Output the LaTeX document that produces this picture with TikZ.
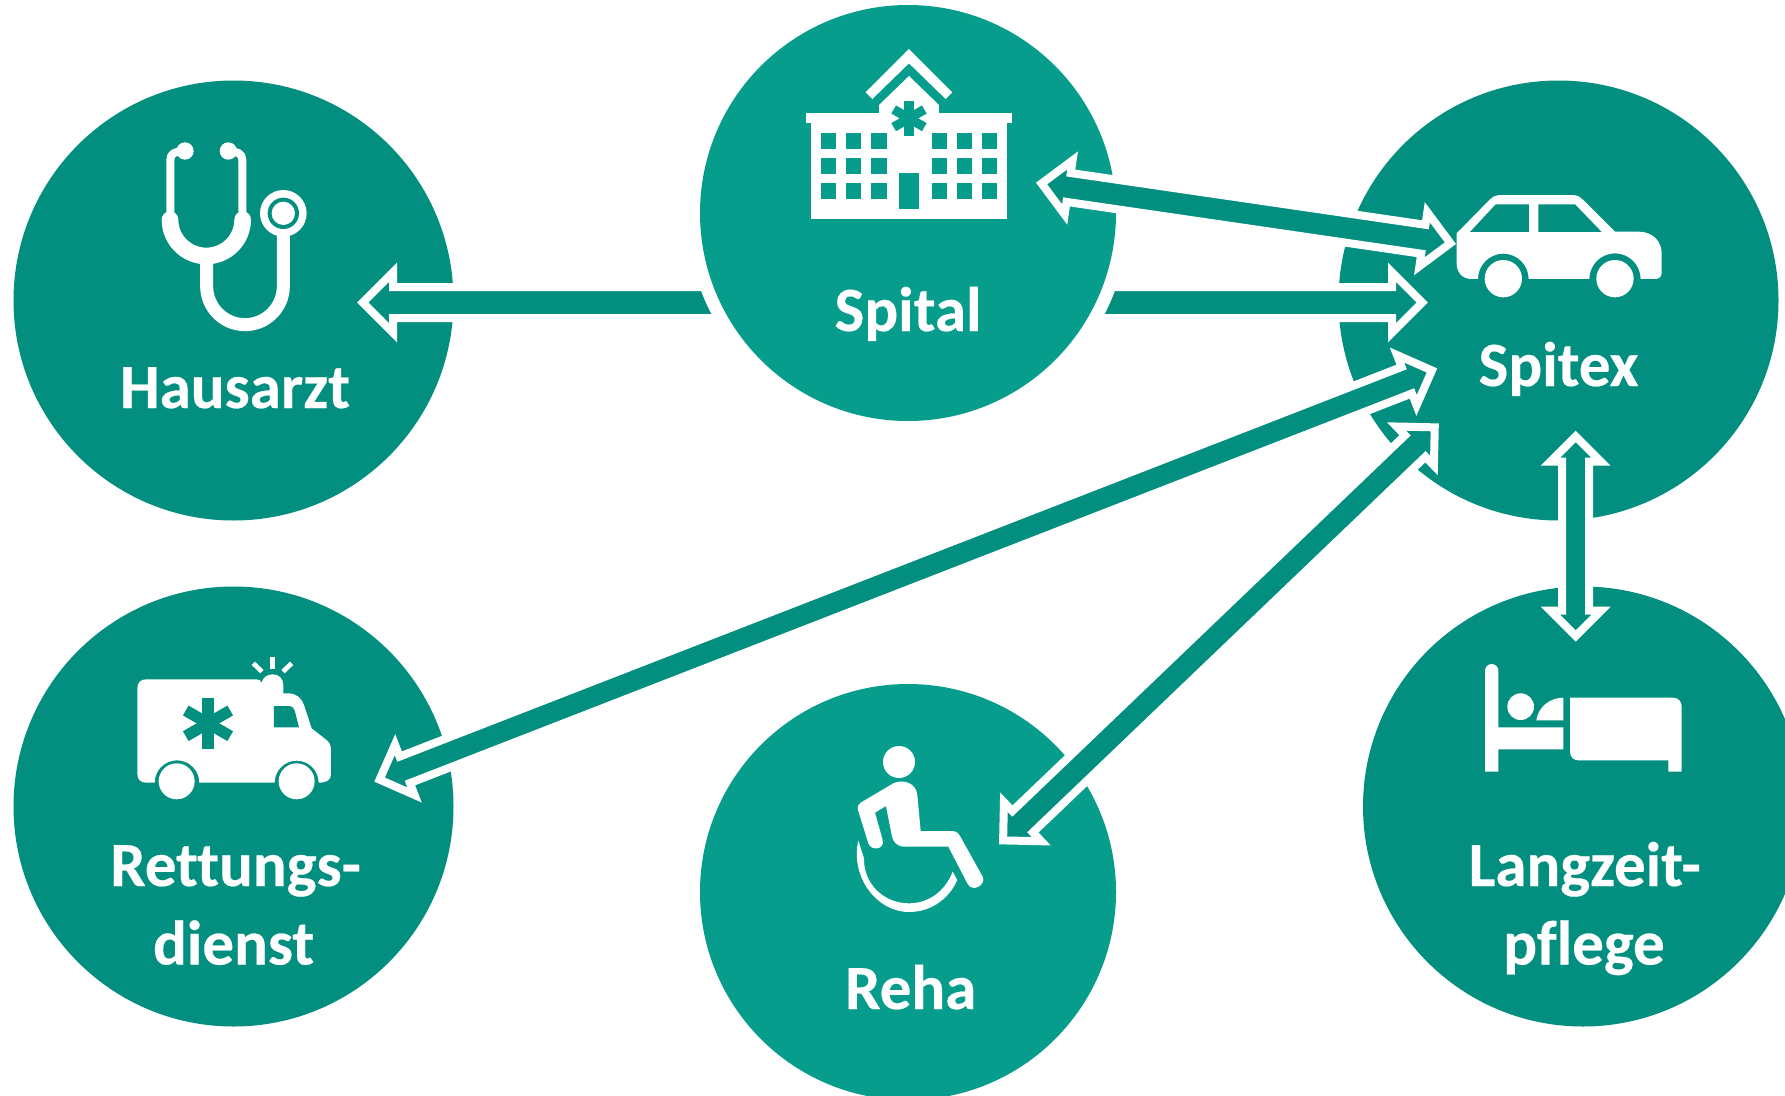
\documentclass[tikz,border=0pt]{standalone}
\usepackage{fontspec}
\setmainfont{Carlito}[Ligatures=NoCommon,Contextuals=NoAlternate,BoldFeatures={FakeBold=0.35,Ligatures=NoCommon}]
\usetikzlibrary{calc}
\definecolor{darkteal}{HTML}{028F80}
\definecolor{lightteal}{HTML}{079D8D}
\tikzset{
  disc/.style={circle,draw=none,inner sep=0pt,outer sep=0pt,minimum size=#1},
  blockarrow/.style={fill=darkteal,draw=white,line width=8pt,line join=miter,miter limit=10},
  label/.style={text=white,anchor=base,inner sep=0pt,font=\fontsize{63}{63}\selectfont\bfseries},
  icon/.style={x=0.3333pt,y=-0.3333pt},
  tube/.style={draw=white,line cap=round,line join=round},
}
% single block arrow: open tail #1, tip #2, half shaft #3, head #4
\newcommand{\arrowgeom}[2]{%
  \path let \p1=($(#2)-(#1)$) in \pgfextra{%
    \pgfmathsetmacro\tmpang{atan2(\y1,\x1)}%
    \pgfmathsetmacro\tmplen{veclen(\x1,\y1)}%
    \global\let\ArrAng\tmpang\global\let\ArrLen\tmplen};%
}
\newcommand{\singlearrow}[4]{%
  \arrowgeom{#1}{#2}%
  \begin{scope}[shift={(#1)},rotate=\ArrAng]
    \pgfmathsetmacro\bk{\ArrLen-#4}
    \draw[blockarrow] (0,#3) -- (\bk,#3) -- (\bk,#4) -- (\ArrLen,0) -- (\bk,-#4) -- (\bk,-#3) -- (0,-#3) -- cycle;
  \end{scope}}
\newcommand{\doublearrow}[4]{%
  \arrowgeom{#1}{#2}%
  \begin{scope}[shift={(#1)},rotate=\ArrAng]
    \pgfmathsetmacro\bk{\ArrLen-#4}
    \draw[blockarrow] (0,0) -- (#4,#4) -- (#4,#3) -- (\bk,#3) -- (\bk,#4) -- (\ArrLen,0) -- (\bk,-#4) -- (\bk,-#3) -- (#4,-#3) -- (#4,-#4) -- cycle;
  \end{scope}}
\newcommand{\medstar}[5]{% x y halfwidth halflength colour
  \foreach \a in {0,60,120}{%
    \fill[#5,rotate around={\a:(#1,#2)}] ({#1-#3},{#2-#4}) rectangle ({#1+#3},{#2+#4});}}
\begin{document}
\begin{tikzpicture}[x=1pt,y=-1pt]
\clip (0,0) rectangle (1785,1095);
\fill[white] (0,0) rectangle (1785,1095);
% discs
\node[disc=440pt,fill=darkteal] (hausarzt) at (233.5,300.5) {};
\node[disc=440pt,fill=darkteal] (spitex) at (1558.5,300.5) {};
\node[disc=440pt,fill=darkteal] (rettung) at (233.5,806.5) {};
\node[disc=440pt,fill=darkteal] (langzeit) at (1583,806.5) {};
\node[disc=416pt,fill=lightteal] (reha) at (908,892) {};
% arrow ends
\coordinate (tailH) at (908,302.5);
\coordinate (tipH) at (362.7,302.5);
\coordinate (tipS) at (1422.3,302.5);
\singlearrow{tailH}{tipH}{15.5}{30.3}
\singlearrow{tailH}{tipS}{15.5}{30.3}
% Spital with white halo
\node[disc=442pt,fill=white] (halo) at (908,213) {};
\node[disc=416pt,fill=lightteal] (spital) at (908,213) {};
% double arrows
\coordinate (a3a) at (1041.6,183.5);
\coordinate (a3b) at (1450.4,243.2);
\coordinate (a4a) at (379.6,779.6);
\coordinate (a4b) at (1432,370.4);
\coordinate (a5a) at (1003.1,840.4);
\coordinate (a5b) at (1434.9,427.2);
\coordinate (a6a) at (1575.7,436.4);
\coordinate (a6b) at (1575.7,636);
\doublearrow{a3a}{a3b}{14.6}{27.3}
\doublearrow{a4a}{a4b}{14.2}{27}
\doublearrow{a5a}{a5b}{14.8}{27}
\doublearrow{a6a}{a6b}{13.5}{25.3}
% labels
\node[label] (lblH) at (235,408) {Hausarzt};
\node[label] (lblSp) at (908,331) {Spital};
\node[label] (lblSx) at (1558.5,386) {Spitex};
\node[label] (lblR1) at (235.6,886) {Rettungs-};
\node[label] (lblR2) at (233.6,964.5) {dienst};
\node[label] (lblRe) at (910.7,1009) {Reha};
\node[label] (lblL1) at (1584.7,886) {Langzeit-};
\node[label] (lblL2) at (1584,964.5) {pflege};
% stethoscope
\begin{scope}[shift={(120,120)},icon]
  \fill[white] (195,93) circle (26) (325,93) circle (26);
  \draw[tube,line width=8pt,line cap=butt] (151,290) -- (151,120) .. controls (151,100) and (165,95) .. (190,93);
  \draw[tube,line width=8pt,line cap=butt] (367,290) -- (367,120) .. controls (367,100) and (352,95) .. (328,93);
  \draw[tube,line width=16.67pt] (150,299) arc (180:0:109);
  \draw[tube,line width=13pt,line cap=butt] (260,420) -- (260,499) arc (180:0:115) -- (490,340);
  \fill[white] (490,280) circle (70);
  \fill[darkteal] (490,280) circle (47);
  \fill[white] (490,280) circle (35);
\end{scope}
% hospital
\begin{scope}[shift={(780,30)},icon]
  \fill[white] (387,57) -- (517,187) -- (497,207) -- (387,100) -- (277,207) -- (257,187) -- cycle;
  \fill[white] (387,138) -- (477,225) -- (477,250) -- (297,250) -- (297,225) -- cycle;
  \fill[white] (78,250) rectangle (696,280);
  \fill[white] (93,280) rectangle (681,566);
  \foreach \wx in {123,198,274,455,530,605}
    \foreach \wy in {310,385,460}
      \fill[lightteal] (\wx,\wy) rectangle ++(46,46);
  \fill[lightteal] (357,430) rectangle (417,536);
  \medstar{387}{265}{14}{53}{lightteal}
\end{scope}
% car
\begin{scope}[shift={(1330,170)},icon]
  \fill[white] (380,190) -- (475,93) .. controls (488,80) and (495,75) .. (515,75) -- (725,75)
    .. controls (745,75) and (752,82) .. (760,90) -- (855,185) -- (925,185)
    .. controls (970,185) and (995,215) .. (995,250) -- (995,308)
    .. controls (995,320) and (988,327) .. (975,327) -- (932,327)
    arc (0:-180:77) -- (596,327) arc (0:-180:76) -- (425,327)
    .. controls (395,327) and (380,305) .. (380,280) -- cycle;
  \fill[darkteal] (420,186) -- (497,103) -- (597,103) -- (597,186) -- cycle;
  \fill[darkteal] (625,103) -- (735,103) -- (815,186) -- (625,186) -- cycle;
  \fill[white] (520,326) circle (56) (855,326) circle (56);
\end{scope}
% ambulance
\begin{scope}[shift={(120,640)},icon]
  \fill[white] (52,145) .. controls (52,128) and (62,118) .. (78,118) -- (410,118)
    .. controls (418,118) and (422,122) .. (425,128) .. controls (428,112) and (442,103) .. (458,103)
    .. controls (476,103) and (490,115) .. (490,135) -- (490,160) -- (505,160)
    .. controls (530,160) and (545,175) .. (552,195) -- (575,265) -- (617,298)
    .. controls (628,306) and (633,315) .. (633,325) -- (633,403)
    .. controls (633,420) and (620,428) .. (596,428)
    arc (0:-180:66) -- (238,428) arc (0:-180:67) -- (78,428)
    .. controls (62,428) and (52,418) .. (52,402) -- cycle;
  \fill[darkteal] (462,198) -- (505,198) .. controls (516,198) and (522,204) .. (525,215) -- (537,262) -- (462,262) -- cycle;
  \medstar{264}{250}{17}{77}{darkteal}
  \fill[white] (170,424) circle (54) (530,424) circle (54);
  \fill[white] (450,51) rectangle (464,87);
  \draw[white,line width=4.7pt] (400,70) -- (426,95);
  \draw[white,line width=4.7pt] (515,70) -- (489,95);
\end{scope}
% wheelchair
\begin{scope}[shift={(830,720)},icon]
  \fill[white] (207,126) circle (48);
  \fill[white] (92,248) -- (190,190) .. controls (215,178) and (258,185) .. (262,225) -- (272,333) -- (365,333)
    .. controls (378,333) and (384,338) .. (390,348) -- (458,470)
    .. controls (470,495) and (425,520) .. (412,490) -- (355,380) -- (225,380)
    .. controls (200,380) and (188,365) .. (185,345) -- (168,258) -- (135,278) -- (158,360)
    .. controls (165,388) and (125,395) .. (115,370) -- (84,270) .. controls (82,260) and (85,252) .. (92,248) -- cycle;
  \fill[white] (85,362) .. controls (60,470) and (140,576) .. (237,576) .. controls (300,576) and (355,540) .. (382,480)
    -- (368,455) .. controls (345,515) and (295,550) .. (237,550) .. controls (160,550) and (100,490) .. (102,415) -- cycle;
\end{scope}
% bed
\begin{scope}[shift={(1460,650)},icon]
  \fill[white] (75,365) -- (75,62) arc (180:360:20) -- (115,232) -- (310,232) -- (310,298) -- (115,298) -- (115,365) -- cycle;
  \fill[white] (182,170) circle (40);
  \fill[white] (229,211) .. controls (235,170) and (270,143) .. (310,143) -- (310,211) -- cycle;
  \fill[white] (330,143) -- (640,143) .. controls (655,143) and (665,155) .. (665,170) -- (665,365) -- (625,365) -- (625,331) -- (355,331)
    .. controls (340,331) and (330,320) .. (330,305) -- cycle;
\end{scope}
\end{tikzpicture}
\end{document}
